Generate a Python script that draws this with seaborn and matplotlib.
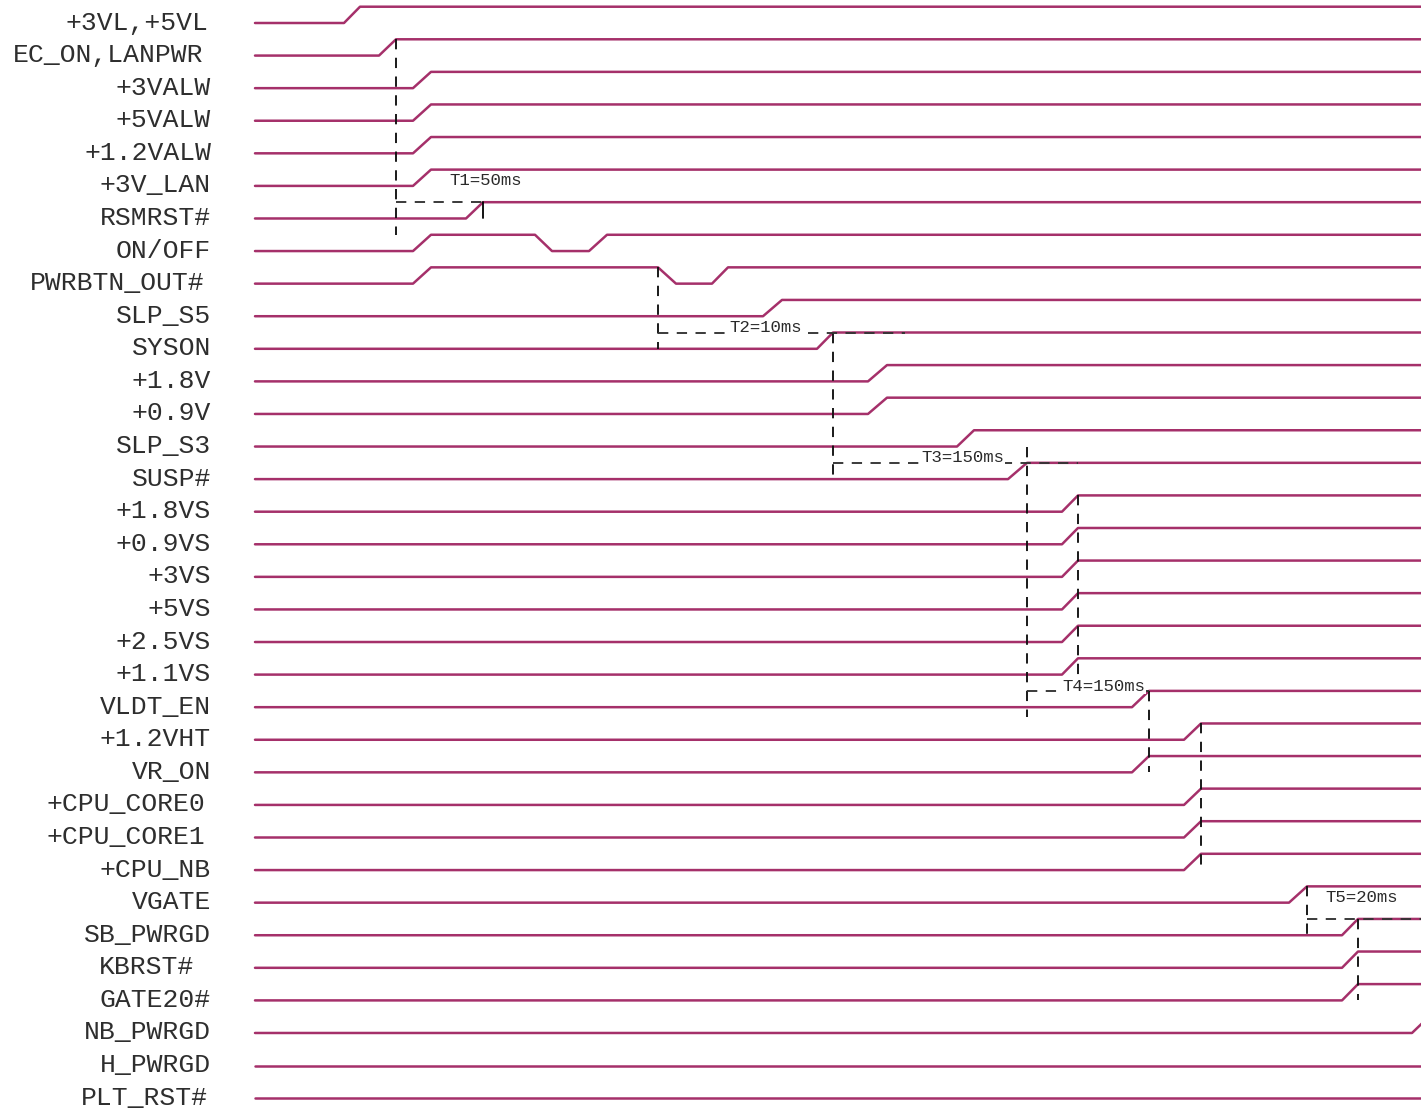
import matplotlib
matplotlib.use("Agg")
import matplotlib.pyplot as plt
import seaborn as sns
import pandas as pd

# ---------------- data ----------------
signals = ["+3VL,+5VL", "EC_ON,LANPWR", "+3VALW", "+5VALW", "+1.2VALW", "+3V_LAN",
           "RSMRST#", "ON/OFF", "PWRBTN_OUT#", "SLP_S5", "SYSON", "+1.8V", "+0.9V",
           "SLP_S3", "SUSP#", "+1.8VS", "+0.9VS", "+3VS", "+5VS", "+2.5VS", "+1.1VS",
           "VLDT_EN", "+1.2VHT", "VR_ON", "+CPU_CORE0", "+CPU_CORE1", "+CPU_NB",
           "VGATE", "SB_PWRGD", "KBRST#", "GATE20#", "NB_PWRGD", "H_PWRGD", "PLT_RST#"]

# transitions (start, end) in time units; each transition toggles the level
edges = {
    "+3VL,+5VL": [(344, 360)],
    "EC_ON,LANPWR": [(379, 396)],
    "+3VALW": [(413, 431)],
    "+5VALW": [(413, 431)],
    "+1.2VALW": [(413, 431)],
    "+3V_LAN": [(413, 431)],
    "RSMRST#": [(466, 483)],
    "ON/OFF": [(413, 431), (535, 552), (589, 607)],
    "PWRBTN_OUT#": [(413, 431), (658, 676), (712, 728)],
    "SLP_S5": [(763, 782)],
    "SYSON": [(817, 833)],
    "+1.8V": [(868, 887)],
    "+0.9V": [(868, 887)],
    "SLP_S3": [(957, 974)],
    "SUSP#": [(1008, 1027)],
    "+1.8VS": [(1062, 1078)],
    "+0.9VS": [(1062, 1078)],
    "+3VS": [(1062, 1078)],
    "+5VS": [(1062, 1078)],
    "+2.5VS": [(1062, 1078)],
    "+1.1VS": [(1062, 1078)],
    "VLDT_EN": [(1132, 1149)],
    "+1.2VHT": [(1184, 1201)],
    "VR_ON": [(1132, 1149)],
    "+CPU_CORE0": [(1184, 1201)],
    "+CPU_CORE1": [(1184, 1201)],
    "+CPU_NB": [(1184, 1201)],
    "VGATE": [(1289, 1307)],
    "SB_PWRGD": [(1342, 1358)],
    "KBRST#": [(1342, 1358)],
    "GATE20#": [(1342, 1358)],
    "NB_PWRGD": [(1412, 1429)],
    "H_PWRGD": [],
    "PLT_RST#": [],
}
t_start, t_end = 255, 1421

# timing annotations: label, time from, time to, row of the horizontal marker
timing_labels = ["T1=50ms", "T2=10ms", "T3=150ms", "T4=150ms", "T5=20ms"]
timing_from = [396, 658, 833, 1027, 1307]
timing_to = [483, 905, 1078, 1149, 1421]
timing_row = [6, 10, 14, 21, 28]

# vertical dashed markers: time, top (row, level), bottom (row, level)
marker_t = [396, 658, 833, 1027, 1078, 1149, 1201, 1307, 1358]
marker_top = [(1, 1), (8, 1), (10, 1), (13, 0), (15, 1), (21, 1), (22, 1), (27, 1), (28, 1)]
marker_bot = [(7, 1), (10, 0), (14, 0), (21, -0.6), (20, 0), (23, 0), (26, 0), (28, 0), (30, 0)]

# ---------------- build waveforms ----------------
AMP = 0.5
def ypos(row, level):
    return row - AMP * level

rows = []
for i, name in enumerate(signals):
    lvl = 0
    pts = [(t_start, ypos(i, lvl))]
    for (a, b) in edges[name]:
        pts.append((a, ypos(i, lvl)))
        lvl = 1 - lvl
        pts.append((b, ypos(i, lvl)))
    last = max(t_end + 10, pts[-1][0])
    pts.append((last, ypos(i, lvl)))
    for k, (x, y) in enumerate(pts):
        rows.append({"signal": name, "order": k, "t": x, "y": y})
df = pd.DataFrame(rows)

# ---------------- draw ----------------
sns.set_theme(style="white")
plt.rcParams["font.family"] = ["Liberation Mono", "DejaVu Sans"]

fig = plt.figure(figsize=(14.21, 11.10), dpi=100)
ax = fig.add_axes([0, 0, 1, 1])

sns.lineplot(data=df, x="t", y="y", units="signal", estimator=None, sort=False,
             color="#a5306a", lw=1.8, legend=False, ax=ax)

dash = (0, (5.5, 4.5))
for t, (r0, l0), (r1, l1) in zip(marker_t, marker_top, marker_bot):
    ax.plot([t, t], [ypos(r0, l0), ypos(r1, l1)], color="#111111", lw=1.35, ls=dash, zorder=3)

for lab, a, b, r in zip(timing_labels, timing_from, timing_to, timing_row):
    y = ypos(r, 1)
    ax.plot([a, b], [y, y], color="#333333", lw=1.35, ls=dash, zorder=3)

# solid end tick of T1
ax.plot([timing_to[0], timing_to[0]], [ypos(6, 1), ypos(6, 0)], color="black", lw=1.3, zorder=3)

# timing texts
text_t = [449, 729, 921, 1062, 1325]
text_dy = [-0.68, -0.14, -0.15, -0.15, -0.67]
for lab, tx, r, dy in zip(timing_labels, text_t, timing_row, text_dy):
    ax.text(tx, ypos(r, 1) + dy, lab, fontsize=12.5, ha="left", va="center",
            color="#2a2a2a", zorder=4,
            bbox=dict(facecolor="white", edgecolor="none", pad=0.5) if abs(dy) < 0.3 else None)

# signal labels
label_nudge = {"EC_ON,LANPWR": -8, "PWRBTN_OUT#": -6, "+CPU_CORE0": -6,
               "+CPU_CORE1": -6, "KBRST#": -17, "+3VL,+5VL": -3, "PLT_RST#": -3}
for i, name in enumerate(signals):
    ax.text(211 + label_nudge.get(name, 0), i + 0.2, name, fontsize=19,
            ha="right", va="baseline", color="#2e2e2e")

top_px, px_per_row, H = 23, 32.58, 1110
ax.set_xlim(0, 1421)
ax.set_ylim((H - top_px) / px_per_row, -top_px / px_per_row)
ax.axis("off")

fig.savefig("out.png", dpi=100)
